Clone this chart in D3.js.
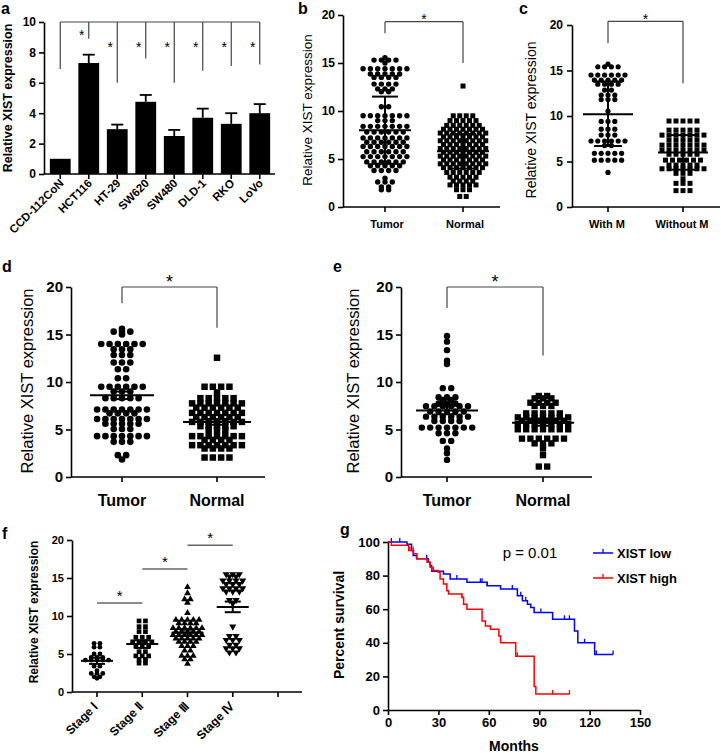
<!DOCTYPE html>
<html><head><meta charset="utf-8">
<script src="https://cdn.jsdelivr.net/npm/d3@7"></script>
<style>body{margin:0;background:#fff}</style>
</head><body>
<script>
const FONT = '"Liberation Sans", Arial, Helvetica, sans-serif';

// ---------------- DATA ----------------
// Panel a
const aCats  = ["CCD-112CoN","HCT116","HT-29","SW620","SW480","DLD-1","RKO","LoVo"];
const aMeans = [1.0, 7.3, 2.95, 4.75, 2.5, 3.7, 3.3, 4.0];
const aErr   = [0, 0.55, 0.3, 0.45, 0.4, 0.6, 0.7, 0.6];
const aDrop  = [6.9, 8.9, 6.0, 7.6, 6.0, 6.8, 7.1, 7.2];
const aStarY = [null, 9.3, 8.5, 8.5, 8.5, 8.5, 8.5, 8.5];
const aTicks = [0,2,4,6,8,10];

// Panel b
const bCats = ["Tumor","Normal"];
const bTumor = [15.55,
 15.3,15.3,15.3,15.3, 15.0,
 14.4,14.4,14.4,14.4,14.4,14.4,14.4,
 13.85,13.85,13.85,13.85,13.85,
 13.5,13.5,13.5,13.5,
 12.8,12.8,12.8,12.8, 12.3,12.3,12.3, 12.0,12.0,
 10.45,10.45,
 9.5,9.5,9.5,9.5,9.5,9.5,9.5, 9.0,9.0,9.0,
 8.4,8.4,8.4,8.4,8.4,8.4,8.4, 7.8,7.8,7.8,7.8,7.8,7.8,
 7.2,7.2,7.2,7.2,7.2,7.2,7.2, 6.75,6.75,6.75,6.75,6.75,6.75,
 6.3,6.3,6.3,6.3,6.3,6.3,6.3, 5.75,5.75,5.75,5.75,5.75,5.75,
 5.25,5.25,5.25,5.25,5.25,5.25,5.25, 4.7,4.7,4.7,4.7,4.7,4.7,
 4.3,4.3,4.3,4.3,4.3, 3.8,3.8,3.8,3.8, 3.0, 2.6,2.6,2.6, 2.1,2.1, 1.8,1.8];
const bNormal = [12.6,
 9.5,9.5,9.5,9.5, 9.0,9.0,9.0,9.0,9.0, 8.5,8.5,8.5,8.5,8.5,8.5,
 8.1,8.1,8.1,8.1,8.1,8.1,8.1, 7.7,7.7,7.7,7.7,7.7,7.7,7.7,7.7,
 7.3,7.3,7.3,7.3,7.3,7.3,7.3, 6.9,6.9,6.9,6.9,6.9,6.9,6.9,6.9,
 6.5,6.5,6.5,6.5,6.5,6.5,6.5, 6.1,6.1,6.1,6.1,6.1,6.1,6.1,6.1,
 5.7,5.7,5.7,5.7,5.7,5.7,5.7, 5.3,5.3,5.3,5.3,5.3,5.3,5.3,5.3,
 4.9,4.9,4.9,4.9,4.9,4.9,4.9, 4.5,4.5,4.5,4.5,4.5,4.5,4.5,4.5,
 4.1,4.1,4.1,4.1,4.1,4.1,4.1, 3.6,3.6,3.6,3.6,3.6,3.6,
 3.1,3.1,3.1,3.1,3.1, 2.7,2.7,2.7,2.7, 2.3,2.3,2.3,2.3,2.3, 1.8,1.8,1.8, 1.1,1.1];
const bStats = [{mean:8.0, lo:4.5, hi:11.5},{mean:5.8, lo:4.0, hi:7.6}];

// Panel c
const cCats = ["With M","Without M"];
const cWithM = [15.7, 15.4,15.4,15.4,15.4, 14.5,14.5,14.5,14.5,14.5,14.5,
 13.95,13.95,13.95,13.95,13.95, 13.5,13.5,13.5,13.5, 12.85,12.85,
 12.3,12.3,12.3, 11.8,11.8,11.8, 10.55, 9.4,9.4,9.4, 8.55,8.55,8.55,
 7.9,7.9,7.9, 7.25,7.25,7.25,7.25,7.25,7.25, 6.75,6.75,
 5.9,5.9,5.9,5.9,5.9, 5.15,5.15,5.15,5.15,5.15, 3.8];
const cWithoutM = [9.45,9.45,9.45,9.45,9.45, 8.45,8.45,8.45,8.45,8.45,
 7.9,7.9,7.9,7.9,7.9,7.9,7.9, 7.35,7.35,7.35,7.35,7.35,
 6.8,6.8,6.8,6.8,6.8,6.8,6.8, 6.25,6.25,6.25,6.25,6.25,6.25,6.25,
 5.8,5.8,5.8,5.8,5.8, 5.15,5.15,5.15,5.15,5.15,5.15, 4.6,4.6,4.6,4.6,4.6,
 4.2,4.2,4.2,4.2,4.2,4.2,4.2, 3.7,3.7,3.7, 3.1, 2.6,2.6,2.6, 1.8,1.8,1.8];
const cStats = [{mean:10.2, lo:6.7, hi:13.8},{mean:6.0, lo:4.1, hi:7.9}];

// Panel d
const dCats = ["Tumor","Normal"];
const dTumor = [15.6, 15.3,15.3,15.3, 15.0,
 14.0,14.0,14.0,14.0,14.0,14.0, 13.45,13.45,13.45, 12.85,12.85,12.85,
 12.05,12.05,12.05, 11.35,11.35, 10.4,10.4,
 9.5,9.5,9.5,9.5,9.5,9.5, 9.0,9.0,9.0, 8.3,8.3,8.3,8.3,8.3,
 7.1,7.1,7.1,7.1,7.1,7.1,7.1, 6.7,6.7,6.7,6.7,
 6.1,6.1,6.1,6.1,6.1,6.1,6.1, 5.6,5.6,5.6,5.6,5.6, 5.05,5.05,5.05,
 4.3,4.3,4.3,4.3,4.3,4.3,4.3, 3.7,3.7,3.7, 2.3,2.3, 1.85];
const dNormal = [12.55, 9.5,9.5,9.5,9.5, 8.9, 8.3,8.3,8.3,8.3,8.3,
 7.75,7.75,7.75,7.75,7.75,7.75,7.75, 7.3,7.3,7.3,7.3,7.3,7.3,
 6.75,6.75,6.75,6.75,6.75,6.75,6.75, 6.3,6.3,6.3,6.3,6.3,6.3,
 5.8,5.8,5.8,5.8,5.8,5.8,5.8, 5.35,5.35,5.35,5.35,5.35, 4.95,4.95,4.95,
 4.3,4.3,4.3,4.3,4.3,4.3,4.3, 3.9,3.9,3.9,3.9,
 3.35,3.35,3.35,3.35,3.35,3.35,3.35, 3.0,3.0,3.0,3.0, 2.05,2.05,2.05,2.05];
const dStats = [{mean:8.6, lo:8.2, hi:9.0},{mean:5.8, lo:5.5, hi:6.1}];

// Panel e
const eCats = ["Tumor","Normal"];
const eTumor = [14.85, 14.25, 13.35, 12.25, 11.9, 9.35,9.35,
 8.4,8.4,8.4, 8.1,8.1, 7.75,7.75,7.75, 7.45,7.45,7.45,7.45,7.45,7.45,
 6.9,6.9,6.9,6.9,6.9, 6.35,6.35,6.35,6.35,6.35,6.35, 5.9,5.9,5.9,5.9,
 5.2,5.2,5.2,5.2,5.2,5.2,5.2, 4.6,4.6,4.6, 3.8,3.8, 3.0, 2.5, 1.8];
const eNormal = [8.53,8.53, 8.28,8.28,8.28, 7.82,7.82,7.82,7.82, 7.47,7.47,7.47,
 6.7,6.7,6.7,6.7,6.7, 6.28,6.28,6.28,6.28,6.28,6.28,6.28,
 5.93,5.93,5.93,5.93,5.93,5.93, 5.58,5.58,5.58,5.58,5.58,5.58,5.58,
 5.02,5.02,5.02,5.02,5.02,5.02,5.02, 4.04,4.04,4.04,4.04,4.04,4.04,
 3.54,3.54,3.54, 3.0, 2.3, 1.1,1.1];
const eStats = [{mean:7.0, lo:6.6, hi:7.5},{mean:5.7, lo:5.4, hi:6.0}];
const yTicks20 = [0,5,10,15,20];

// Panel f
const fCats = ["Stage \u2160","Stage \u2161","Stage \u2162","Stage \u2163",""];
const fStage1 = [6.4,6.4, 5.9,5.9, 5.0,5.0, 4.55,4.55,4.55, 4.2,4.2,4.2,4.2,4.2,
 3.4,3.4, 2.8, 2.45,2.45,2.45, 2.0,2.0, 1.8];
const fStage2 = [9.35,9.35, 8.6,8.6, 7.95,7.95, 7.2,7.2,7.2, 6.6,6.6,6.6,6.6,
 6.05,6.05,6.05, 5.3,5.3, 4.75,4.75,4.75, 4.3,4.3, 3.8,3.8];
const fStage3 = [13.8, 13.0, 12.2,12.2, 11.75, 10.4, 9.5,9.5,9.5,9.5,9.5,
 9.05,9.05,9.05,9.05, 8.4,8.4,8.4,8.4,8.4,8.4, 7.95,7.95,7.95,7.95,7.95,
 7.5,7.5,7.5,7.5,7.5,7.5, 7.05,7.05,7.05,7.05,7.05, 6.6,6.6,6.6,6.6,
 6.05,6.05,6.05, 5.45,5.45, 4.75,4.75,4.75, 4.3,4.3, 3.7];
const fStage4 = [15.5,15.5,15.5, 15.2,15.2, 14.65,14.65,14.65,14.65, 14.2,14.2,14.2,
 13.65,13.65,13.65,13.65, 13.2,13.2,13.2, 12.1,12.1, 11.65, 8.6, 7.35,7.35,
 6.85,6.85,6.85, 6.2,6.2, 5.75,5.75,5.75, 5.2,5.2];
const fStats = [{mean:4.1, lo:3.7, hi:4.5},{mean:6.3, lo:5.8, hi:6.8},
                {mean:7.8, lo:7.4, hi:8.2},{mean:11.2, lo:10.5, hi:11.9}];
const fSig = [{from:0, to:1, y:11.7},{from:1, to:2, y:16.2},{from:2, to:3, y:19.3}];

// Panel g (Kaplan-Meier)
const gLowSteps  = [[0,100],[11.3,98.6],[14,95],[15,92],[17,90],[24,88],[25,86],[26,82.6],
 [33,81],[37,78],[47,76],[59,74],[67,72],[77,68],[80,65],[83,63],[85,61],[87,58],
 [98,54],[111,47],[113,40],[123,33],[134,33]];
const gHighSteps = [[0,100],[2,98],[12.3,95],[15.2,93],[17.2,90],[23.2,88],[25.1,85],
 [26.1,83],[30,82],[31,78],[33,75],[35,71],[36,69],[44,67],[45,63],[47,60],[56,53],
 [58,50],[61,48],[66,44],[67,40],[76,32],[87,14],[88,9.5],[108,9.5]];
const gLowCensor  = [2,7,23,41,55,56,59,74,79,82,91,105,108,117,124,134];
const gHighCensor = [13,15,27,44,77,98,108];
const gXTicks = [0,30,60,90,120,150];
const gYTicks = [0,20,40,60,80,100];

// ---------------- DRAWING ----------------
const svg = d3.select('body').append('svg')
  .attr('width',721).attr('height',753).style('font-family',FONT);

function text(g, x, y, s, o={}) {
  const t = g.append('text').attr('x',x).attr('y',y).text(s)
    .attr('font-size',o.fs||12).attr('font-weight',o.fw||'bold')
    .attr('text-anchor',o.anchor||'middle').attr('fill','#000');
  if (o.dy) t.attr('dy',o.dy);
  if (o.rot) t.attr('transform',`rotate(${o.rot},${x},${y})`);
  return t;
}
function line(g,x1,y1,x2,y2,w=1.6,c='#000'){
  g.append('line').attr('x1',x1).attr('y1',y1).attr('x2',x2).attr('y2',y2)
   .attr('stroke',c).attr('stroke-width',w);
}
function yAxis(g, scale, x, ticks, fs, pad=3) {
  const ax = g.append('g').attr('transform',`translate(${x},0)`)
    .call(d3.axisLeft(scale).tickValues(ticks).tickSize(5).tickSizeOuter(0).tickPadding(pad));
  ax.select('.domain').attr('stroke','#000').attr('stroke-width',1.6);
  ax.selectAll('.tick line').attr('stroke','#000').attr('stroke-width',1.6);
  ax.selectAll('text').attr('font-size',fs).attr('font-weight','bold')
    .attr('font-family',FONT).attr('fill','#000');
  return ax;
}
function xAxisLine(g, x0, x1, y, tickXs) {
  line(g, x0, y, x1, y);
  tickXs.forEach(tx => line(g, tx, y, tx, y+5));
}
function scatterCol(g, vals, cx, y, opt) {
  const rows = d3.group(vals, v => v);
  const pts = [];
  rows.forEach((arr, v) => {
    const n = arr.length;
    arr.forEach((_, i) => pts.push({x: cx + (i-(n-1)/2)*opt.step, y: y(v)}));
  });
  if (opt.shape === 'circle') {
    g.append('g').selectAll('circle').data(pts).join('circle')
      .attr('cx',d=>d.x).attr('cy',d=>d.y).attr('r',opt.size).attr('fill','#000');
  } else {
    const type = opt.shape === 'square' ? d3.symbolSquare : d3.symbolTriangle;
    const sym = d3.symbol().type(type).size(opt.size);
    g.append('g').selectAll('path').data(pts).join('path').attr('d',sym)
      .attr('transform',d=>`translate(${d.x},${d.y})${opt.shape==='tridown'?' rotate(180)':''}`)
      .attr('fill','#000');
  }
}
function meanBar(g, cx, y, st, half, cap, w=2) {
  line(g, cx, y(st.lo), cx, y(st.hi), w);
  line(g, cx-cap, y(st.lo), cx+cap, y(st.lo), w);
  line(g, cx-cap, y(st.hi), cx+cap, y(st.hi), w);
  line(g, cx-half, y(st.mean), cx+half, y(st.mean), w);
}
function bracket(g, x1, x2, yTop, y1, y2, fs, starDy) {
  const c = '#444';
  line(g, x1, yTop, x2, yTop, 1.2, c);
  line(g, x1, yTop, x1, y1, 1.2, c);
  line(g, x2, yTop, x2, y2, 1.2, c);
  text(g, (x1+x2)/2, yTop - starDy, '*', {fs: fs, fw:'normal'});
}
function panelLabel(x, y, s) { text(svg, x, y, s, {fs:16, anchor:'start'}); }

// ===== Panel a =====
{
  const g = svg.append('g');
  const y = d3.scaleLinear().domain([0,10]).range([174,22]);
  const x = d3.scaleBand().domain(aCats).range([47,273]).paddingInner(0.27).paddingOuter(0.1);
  const cx = c => x(c) + x.bandwidth()/2;
  g.selectAll('rect').data(aCats).join('rect')
    .attr('x',d=>x(d)).attr('y',(d,i)=>y(aMeans[i]))
    .attr('width',x.bandwidth()).attr('height',(d,i)=>y(0)-y(aMeans[i])).attr('fill','#000');
  aCats.forEach((c,i) => {
    if (aErr[i] > 0) {
      line(g, cx(c), y(aMeans[i]), cx(c), y(aMeans[i]+aErr[i]), 1.8);
      line(g, cx(c)-6, y(aMeans[i]+aErr[i]), cx(c)+6, y(aMeans[i]+aErr[i]), 1.8);
    }
  });
  // comparison bracket
  line(g, cx(aCats[0]), y(10), cx(aCats[aCats.length-1]), y(10), 1.2, '#444');
  aCats.forEach((c,i) => {
    line(g, cx(c), y(10), cx(c), y(aDrop[i]), 1.2, '#444');
    if (aStarY[i] !== null) text(g, cx(c)-7, y(aStarY[i])+7, '*', {fs:14, fw:'normal'});
  });
  yAxis(g, y, 44, aTicks, 12, 3);
  xAxisLine(g, 44, 275, y(0), aCats.map(cx));
  aCats.forEach(c => {
    text(g, cx(c)+4, 184, c, {fs:11.5, anchor:'end', rot:-45});
  });
  text(g, 8, 98, 'Relative XIST expression', {fs:12.5, rot:-90, dy:'0.35em'});
  panelLabel(1, 14, 'a');
}

// ===== Panel b =====
{
  const g = svg.append('g');
  const y = d3.scaleLinear().domain([0,20]).range([207,15]);
  const x = d3.scalePoint().domain(bCats).range([385,463]);
  scatterCol(g, bTumor, x('Tumor'), y, {shape:'circle', step:7.3, size:2.7});
  scatterCol(g, bNormal, x('Normal'), y, {shape:'square', step:6.5, size:25});
  meanBar(g, x('Tumor'), y, bStats[0], 26, 13);
  meanBar(g, x('Normal'), y, bStats[1], 26, 13);
  bracket(g, x('Tumor'), x('Normal'), y(19.3), y(18.1), y(15.0), 14, -2);
  yAxis(g, y, 343, yTicks20, 12, 3);
  xAxisLine(g, 343, 500, y(0), bCats.map(x));
  bCats.forEach(c => text(g, x(c)+2, 228, c, {fs:11}));
  text(g, 307, 110, 'Relative XIST expression', {fs:13.5, fw:'normal', rot:-90, dy:'0.35em'});
  panelLabel(298, 14, 'b');
}

// ===== Panel c =====
{
  const g = svg.append('g');
  const y = d3.scaleLinear().domain([0,20]).range([207,25]);
  const x = d3.scalePoint().domain(cCats).range([608,683]);
  scatterCol(g, cWithM, x('With M'), y, {shape:'circle', step:6.8, size:2.6});
  scatterCol(g, cWithoutM, x('Without M'), y, {shape:'square', step:7, size:25});
  meanBar(g, x('With M'), y, cStats[0], 25, 14);
  meanBar(g, x('Without M'), y, cStats[1], 25, 13);
  bracket(g, x('With M'), x('Without M'), y(20.4), y(18.0), y(13.6), 14, -3);
  yAxis(g, y, 572, yTicks20, 12, 4);
  xAxisLine(g, 572, 720, y(0), cCats.map(x));
  cCats.forEach(c => text(g, x(c)-1, 228, c, {fs:11}));
  text(g, 531, 120, 'Relative XIST expression', {fs:14, fw:'normal', rot:-90, dy:'0.35em'});
  panelLabel(519, 14, 'c');
}

// ===== Panel d =====
{
  const g = svg.append('g');
  const y = d3.scaleLinear().domain([0,20]).range([477,287]);
  const x = d3.scalePoint().domain(dCats).range([122,217]);
  scatterCol(g, dTumor, x('Tumor'), y, {shape:'circle', step:8.3, size:3.3});
  scatterCol(g, dNormal, x('Normal'), y, {shape:'square', step:8.3, size:42});
  meanBar(g, x('Tumor'), y, dStats[0], 32, 10);
  meanBar(g, x('Normal'), y, dStats[1], 34, 10);
  bracket(g, x('Tumor'), x('Normal'), y(20), y(18.3), y(15.7), 18, -1);
  yAxis(g, y, 71, yTicks20, 15, 3);
  xAxisLine(g, 71, 265, y(0), dCats.map(x));
  dCats.forEach(c => text(g, x(c), 506, c, {fs:16}));
  text(g, 27, 381, 'Relative XIST expression', {fs:16.5, fw:'normal', rot:-90, dy:'0.35em'});
  panelLabel(2, 272, 'd');
}

// ===== Panel e =====
{
  const g = svg.append('g');
  const y = d3.scaleLinear().domain([0,20]).range([477,287]);
  const x = d3.scalePoint().domain(eCats).range([447,543]);
  scatterCol(g, eTumor, x('Tumor'), y, {shape:'circle', step:8.4, size:3.2});
  scatterCol(g, eNormal, x('Normal'), y, {shape:'square', step:8.4, size:40});
  meanBar(g, x('Tumor'), y, eStats[0], 31, 10);
  meanBar(g, x('Normal'), y, eStats[1], 31, 10);
  bracket(g, x('Tumor'), x('Normal'), y(20), y(17.8), y(12.8), 18, -1);
  yAxis(g, y, 401, yTicks20, 15, 3);
  xAxisLine(g, 401, 592, y(0), eCats.map(x));
  eCats.forEach(c => text(g, x(c), 506, c, {fs:16}));
  text(g, 353, 381, 'Relative XIST expression', {fs:16.5, fw:'normal', rot:-90, dy:'0.35em'});
  panelLabel(333, 272, 'e');
}

// ===== Panel f =====
{
  const g = svg.append('g');
  const y = d3.scaleLinear().domain([0,20]).range([692,540]);
  const x = d3.scalePoint().domain(fCats).range([97,278]);
  const groups = [fStage1, fStage2, fStage3, fStage4];
  const shapes = [{shape:'circle', size:2.4, step:5.8},{shape:'square', size:22, step:6.4},
                  {shape:'tri', size:20, step:5.8},{shape:'tridown', size:22, step:6.6}];
  groups.forEach((vals,i) => scatterCol(g, vals, x(fCats[i]), y, shapes[i]));
  fStats.forEach((st,i) => meanBar(g, x(fCats[i]), y, st, 16, 8, 2));
  fSig.forEach(s => {
    const x1 = x(fCats[s.from]), x2 = x(fCats[s.to]);
    line(g, x1, y(s.y), x2, y(s.y), 1.5, '#666');
    text(g, (x1+x2)/2, y(s.y)-2, '*', {fs:15, fw:'normal'});
  });
  yAxis(g, y, 72, yTicks20, 11, 3);
  xAxisLine(g, 72, 302, y(0), fCats.map(c=>x(c)));
  fCats.forEach(c => { if (c) text(g, x(c)+2, 707, c, {fs:12, anchor:'end', rot:-45}); });
  text(g, 34, 612, 'Relative XIST expression', {fs:12, rot:-90, dy:'0.35em'});
  panelLabel(2, 539, 'f');
}

// ===== Panel g =====
{
  const g = svg.append('g');
  const x = d3.scaleLinear().domain([0,150]).range([388,640]);
  const y = d3.scaleLinear().domain([0,100]).range([710,542]);
  const km = d3.line().x(d=>x(d[0])).y(d=>y(d[1])).curve(d3.curveStepAfter);
  const survAt = (steps, t) => { let s = steps[0][1]; for (const p of steps) if (p[0] <= t) s = p[1]; return s; };
  const series = [{steps:gLowSteps, cens:gLowCensor, color:'#0000ff'},
                  {steps:gHighSteps, cens:gHighCensor, color:'#ff0000'}];
  series.forEach(s => {
    g.append('path').attr('d', km(s.steps)).attr('fill','none')
      .attr('stroke', s.color).attr('stroke-width',1.5);
    s.cens.forEach(t => line(g, x(t), y(survAt(s.steps,t)), x(t), y(survAt(s.steps,t))-4, 1.3, s.color));
  });
  yAxis(g, y, 388, gYTicks, 13, 3);
  const xa = g.append('g').attr('transform',`translate(0,${y(0)})`)
    .call(d3.axisBottom(x).tickValues(gXTicks).tickSize(5).tickSizeOuter(0).tickPadding(3));
  xa.select('.domain').attr('stroke','#000').attr('stroke-width',1.6);
  xa.selectAll('.tick line').attr('stroke','#000').attr('stroke-width',1.6);
  xa.selectAll('text').attr('font-size',13).attr('font-weight','bold').attr('font-family',FONT).attr('fill','#000');
  text(g, 514, 751, 'Months', {fs:14});
  text(g, 339, 625, 'Percent survival', {fs:14, rot:-90, dy:'0.35em'});
  text(g, 530, 558, 'p = 0.01', {fs:15, fw:'normal'});
  // legend
  const leg = [{label:'XIST low', color:'#0000ff', y:553},{label:'XIST high', color:'#ff0000', y:578}];
  leg.forEach(l => {
    line(g, 593, l.y, 613, l.y, 1.5, l.color);
    line(g, 603, l.y, 603, l.y-4, 1.3, l.color);
    text(g, 617, l.y, l.label, {fs:13, anchor:'start', dy:'0.35em'});
  });
  panelLabel(340, 535, 'g');
}
</script>
</body></html>
